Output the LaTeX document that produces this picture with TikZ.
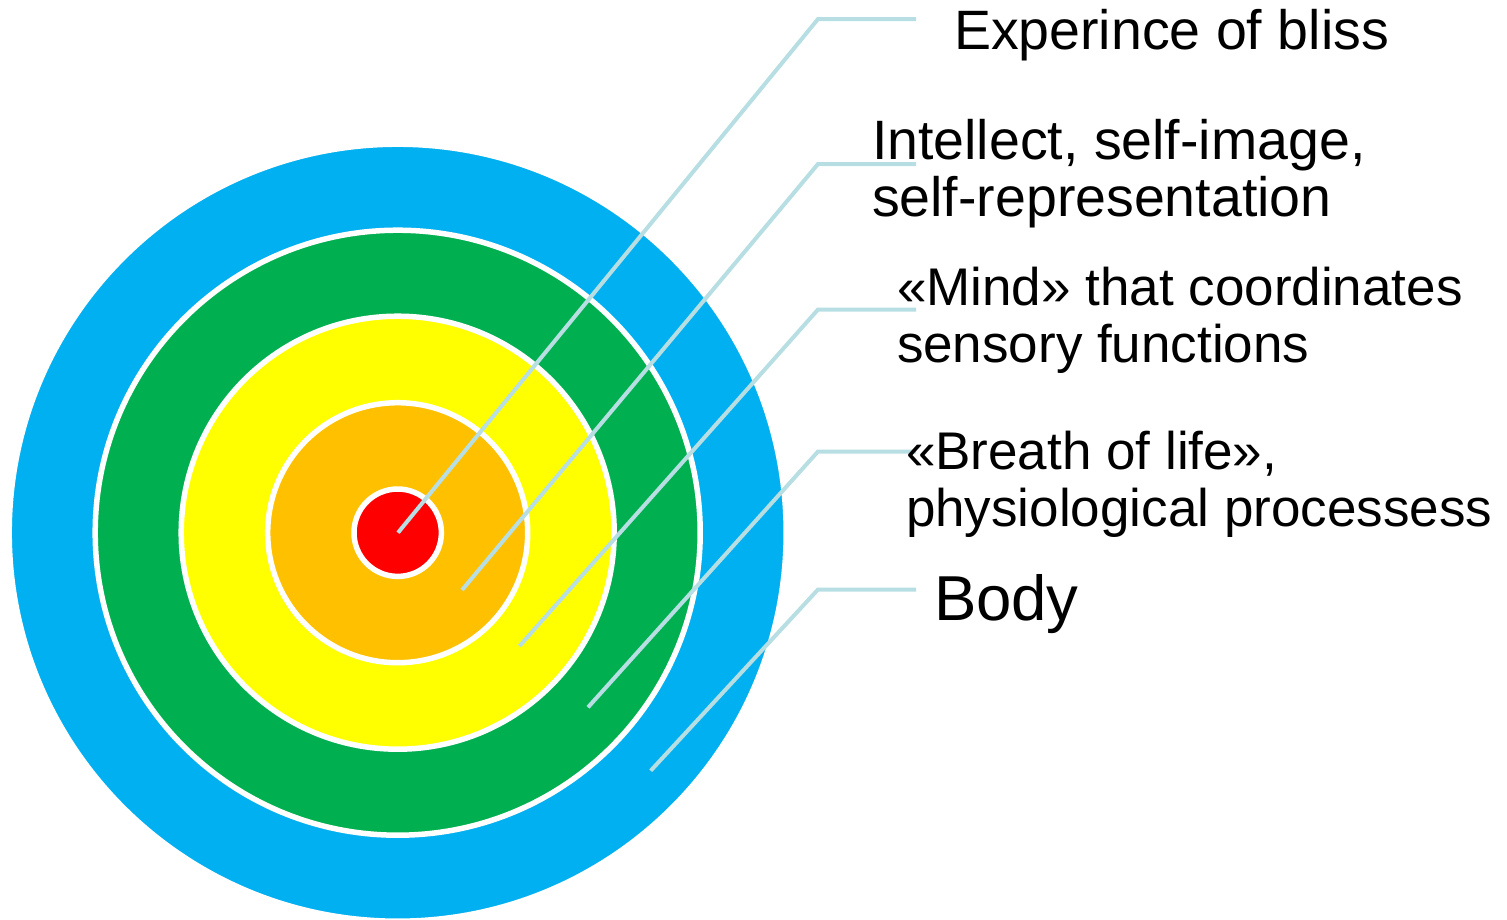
\documentclass[tikz,border=0pt]{standalone}
\usepackage{fontspec}
\setmainfont{Liberation Sans}
\definecolor{ringblue}{HTML}{00B0F0}
\definecolor{ringgreen}{HTML}{00B050}
\definecolor{ringyellow}{HTML}{FFFF00}
\definecolor{ringorange}{HTML}{FFC000}
\definecolor{ringred}{HTML}{FF0000}
\definecolor{leader}{HTML}{B7DEE3}
\begin{document}
\begin{tikzpicture}[x=1pt,y=-1pt,
  ring/.style={circle, draw=white, line width=5.5pt, inner sep=0pt, outer sep=0pt},
  leaderline/.style={draw=leader, line width=4pt, line cap=butt, line join=miter},
  lbl/.style={anchor=base west, inner sep=0pt, outer sep=0pt, align=left},
  fontA/.style={font=\fontsize{55.5}{57}\selectfont},
  fontB/.style={font=\fontsize{53}{57}\selectfont},
  fontC/.style={font=\fontsize{63.5}{66}\selectfont}]
\useasboundingbox (0,0) rectangle (1507,919);
\coordinate (c) at (397.7,532.7);
% rings
\node[ring, fill=ringblue,   minimum size=777pt] (body)   at (c) {};
\node[ring, fill=ringgreen,  minimum size=605pt] (breath) at (c) {};
\node[ring, fill=ringyellow, minimum size=433pt] (mind)   at (c) {};
\node[ring, fill=ringorange, minimum size=260pt] (intel)  at (c) {};
\node[ring, fill=ringred,    minimum size=87.4pt] (bliss) at (c) {};
% leader line anchors
\coordinate (p1) at (398,532.7);
\coordinate (p2) at (462,590);
\coordinate (p3) at (519.5,646);
\coordinate (p4) at (588,707.3);
\coordinate (p5) at (650.7,770.7);
\coordinate (e1) at (818,19);
\coordinate (e2) at (818,164);
\coordinate (e3) at (818,309.5);
\coordinate (e4) at (818,451.5);
\coordinate (e5) at (818,589.5);
\coordinate (h1) at (916,19);
\coordinate (h2) at (916,164);
\coordinate (h3) at (916,309.5);
\coordinate (h4) at (916,451.5);
\coordinate (h5) at (916,589.5);
\draw[leaderline] (p1) -- (e1) -- (h1);
\draw[leaderline] (p2) -- (e2) -- (h2);
\draw[leaderline] (p3) -- (e3) -- (h3);
\draw[leaderline] (p4) -- (e4) -- (h4);
\draw[leaderline] (p5) -- (e5) -- (h5);
% labels (base anchor = baseline of the last line)
\node[lbl, fontA] (t1) at (954,49) {Experince of bliss};
\node[lbl, fontA] (t2) at (872,216) {Intellect, self-image,\\self-representation};
\node[lbl, fontB] (t3) at (897,362) {«Mind» that coordinates\\sensory functions};
\node[lbl, fontB] (t4) at (906,526) {«Breath of life»,\\physiological processess};
\node[lbl, fontC] (t5) at (934,620) {Body};
\end{tikzpicture}
\end{document}
